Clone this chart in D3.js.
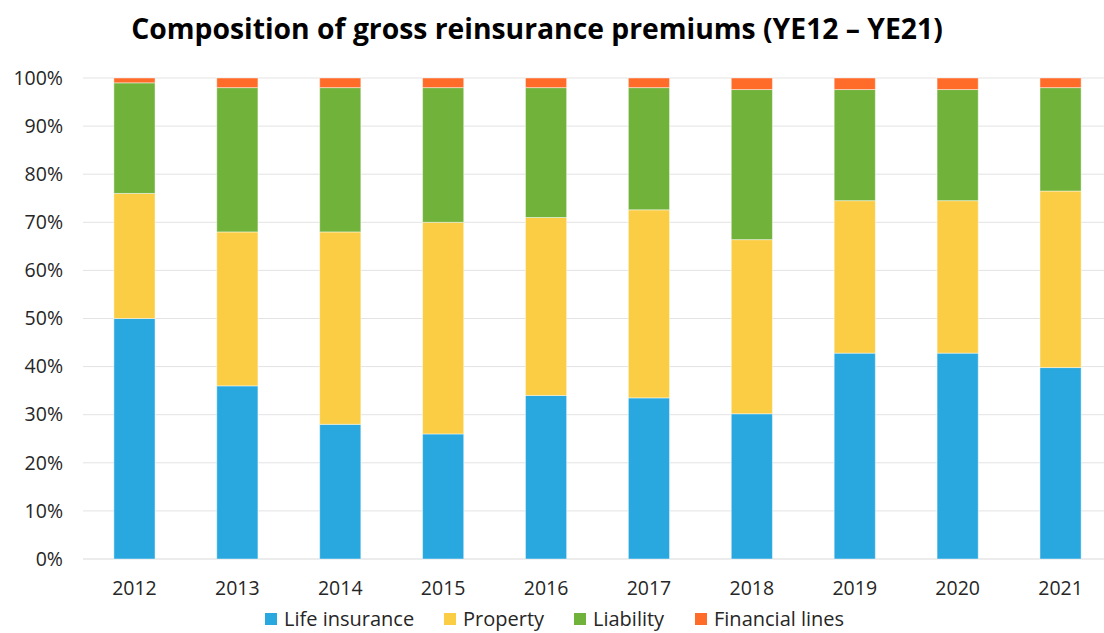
<!DOCTYPE html>
<html>
<head>
<meta charset="utf-8">
<script src="https://cdn.jsdelivr.net/npm/d3@7/dist/d3.min.js"></script>
<style>
  body { margin: 0; background: #fff; }
  text { font-family: "Open Sans", "Liberation Sans", sans-serif; fill: #262626; }
</style>
</head>
<body>
<div id="chart"></div>
<script>
const years = ['2012', '2013', '2014', '2015', '2016', '2017', '2018', '2019', '2020', '2021'];
const seriesNames = ['Life insurance', 'Property', 'Liability', 'Financial lines'];
const lifeInsurance = [50, 36, 28, 26, 34, 33.5, 30.2, 42.8, 42.8, 39.8];
const property = [26, 32, 40, 44, 37, 39.1, 36.2, 31.7, 31.7, 36.7];
const liability = [23, 30, 30, 28, 27, 25.4, 31.2, 23.1, 23.1, 21.5];
const financialLines = [1, 2, 2, 2, 2, 2, 2.4, 2.4, 2.4, 2];
const yTicks = [0, 10, 20, 30, 40, 50, 60, 70, 80, 90, 100];
const colors = ['#29A8E0', '#FBCD44', '#71B23B', '#FF6B28'];

let svgWidth = 1104
let svgHeight = 633
let padding = { left: 83, right: -8, top: 78, bottom: 74 }

let rows = years.map((y, i) => ({
	year: y,
	'Life insurance': lifeInsurance[i],
	'Property': property[i],
	'Liability': liability[i],
	'Financial lines': financialLines[i]
}))

let series = d3.stack().keys(seriesNames)(rows)

let svg = d3.select('#chart').append('svg')
	.attr('width', svgWidth)
	.attr('height', svgHeight)

svg.append('text')
	.attr('x', 537)
	.attr('y', 39)
	.attr('text-anchor', 'middle')
	.attr('font-size', '28.3px')
	.attr('font-weight', '700')
	.style('fill', '#000')
	.text('Composition of gross reinsurance premiums (YE12 – YE21)')

let x = d3.scaleBand()
	.domain(years)
	.range([padding.left, svgWidth - padding.right])
	.paddingInner(0.6)
	.paddingOuter(0.3)

let y = d3.scaleLinear()
	.domain([0, 100])
	.range([svgHeight - padding.bottom - 0, padding.top])

// grid lines
svg.append('g')
	.selectAll('line')
	.data(yTicks)
	.enter()
	.append('line')
	.attr('x1', padding.left)
	.attr('x2', svgWidth)
	.attr('y1', d => y(d))
	.attr('y2', d => y(d))
	.attr('stroke', d => d === 0 ? '#d9d9d9' : '#e3e3e3')
	.attr('stroke-width', 1)

let axis_y = d3.axisLeft(y)
	.tickValues(yTicks)
	.tickFormat(d => d + '%')
	.tickSize(0)
	.tickPadding(20)

let gy = svg.append('g')
	.attr('transform', `translate(${padding.left}, 0)`)
	.call(axis_y)
gy.select('.domain').remove()
gy.selectAll('text')
	.attr('font-size', '19.5px')
	.style('font-family', '"Open Sans", sans-serif')
	.style('fill', '#262626')

let axis_x = d3.axisBottom(x).tickSize(0).tickPadding(22)
let gx = svg.append('g')
	.attr('transform', `translate(0, ${y(0)})`)
	.call(axis_x)
gx.select('.domain').remove()
gx.selectAll('text')
	.attr('font-size', '19.5px')
	.style('font-family', '"Open Sans", sans-serif')
	.style('fill', '#262626')

let groups = svg.append('g')
	.selectAll('g')
	.data(series)
	.enter()
	.append('g')
	.attr('fill', (d, i) => colors[i])

groups.selectAll('rect')
	.data(d => d)
	.enter()
	.append('rect')
	.attr('x', d => x(d.data.year))
	.attr('y', d => y(d[1]))
	.attr('width', x.bandwidth())
	.attr('height', d => y(d[0]) - y(d[1]))
	.attr('stroke', 'rgba(255,255,255,0.45)')
	.attr('stroke-width', 1)

// legend
let legendX = [265, 444, 574, 695]
let legend = svg.append('g')
	.selectAll('g')
	.data(seriesNames)
	.enter()
	.append('g')
	.attr('transform', (d, i) => `translate(${legendX[i]}, 613)`)

legend.append('rect')
	.attr('width', 12)
	.attr('height', 12)
	.attr('fill', (d, i) => colors[i])

legend.append('text')
	.attr('x', 19)
	.attr('y', 13)
	.attr('font-size', '20px')
	.text(d => d)
</script>
</body>
</html>
